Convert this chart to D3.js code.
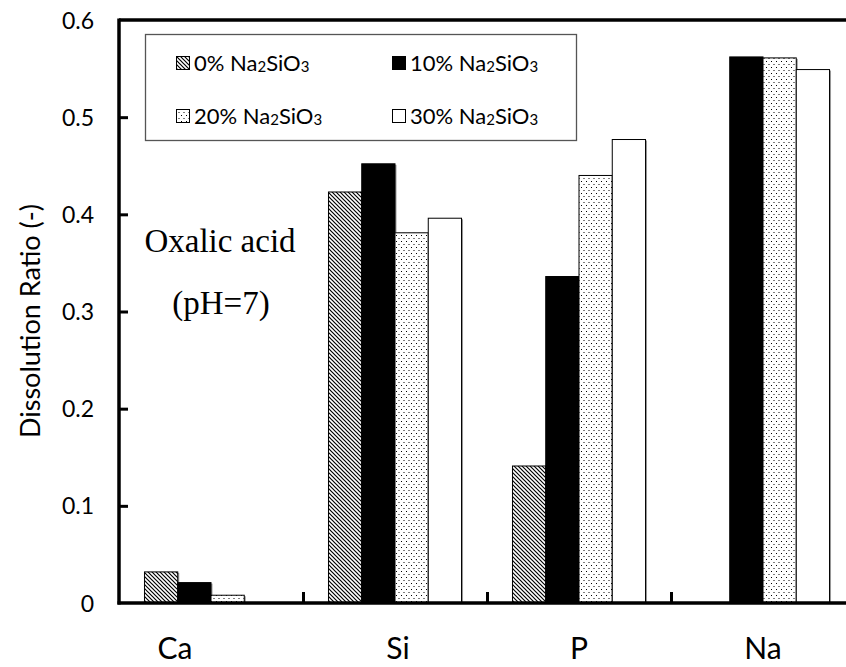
<!DOCTYPE html>
<html>
<head>
<meta charset="utf-8">
<script src="https://cdn.jsdelivr.net/npm/d3@7"></script>
<style>
  html, body { margin: 0; padding: 0; background: #fff; overflow: hidden; }
  svg { display: block; overflow: hidden; }
</style>
</head>
<body>
<svg id="chart" width="846" height="667"></svg>
<script>
// Element categories on the x axis
const categories = ["Ca", "Si", "P", "Na"];
// Na2SiO3 addition levels (legend entries)
const seriesPct = ["0%", "10%", "20%", "30%"];
// Dissolution ratio per element for each addition level
const values0  = [0.032, 0.423, 0.141, 0.000];
const values10 = [0.021, 0.452, 0.336, 0.562];
const values20 = [0.008, 0.381, 0.440, 0.561];
const values30 = [0.000, 0.396, 0.477, 0.549];
// y axis ticks
const yTicks = [0, 0.1, 0.2, 0.3, 0.4, 0.5, 0.6];

const seriesValues = [values0, values10, values20, values30];
const fills = ["url(#hatch)", "#000", "url(#dots)", "#fff"];

const svg = d3.select("#chart");
const defs = svg.append("defs");

// diagonal hatching
const hatch = defs.append("pattern")
  .attr("id", "hatch").attr("patternUnits", "userSpaceOnUse")
  .attr("width", 4).attr("height", 4);
hatch.append("rect").attr("width", 4).attr("height", 4).attr("fill", "#fff");
hatch.append("path").attr("d", "M-1,-1 L5,5 M-1,3 L1,5 M3,-1 L5,1")
  .attr("stroke", "#000").attr("stroke-width", 1.2);

// sparse dot fill
const dots = defs.append("pattern")
  .attr("id", "dots").attr("patternUnits", "userSpaceOnUse")
  .attr("width", 5).attr("height", 6);
dots.append("rect").attr("width", 5).attr("height", 6).attr("fill", "#fff");
dots.append("rect").attr("x", 1).attr("y", 1).attr("width", 1).attr("height", 1).attr("fill", "#000");
dots.append("rect").attr("x", 3.5).attr("y", 4).attr("width", 1).attr("height", 1).attr("fill", "#000");

const plotLeft = 119, plotRight = 855, plotTop = 20, plotBottom = 603;
const frameEnd = 846;

const x = d3.scaleBand().domain(categories).range([plotLeft, plotRight]).padding(0);
const groupW = x.bandwidth() * 0.723;
const x1 = d3.scaleBand().domain(d3.range(seriesPct.length))
  .range([-groupW / 2, groupW / 2]).padding(0);
const y = d3.scaleLinear().domain([0, 0.6]).range([plotBottom, plotTop]);

const sansFont = "Lato, 'Open Sans', sans-serif";

// bars, each with a light offset shadow behind it
const rows = [];
seriesValues.forEach((vals, s) => {
  vals.forEach((v, i) => { if (v > 0) rows.push({ s, cat: categories[i], v }); });
});
const barX = d => x(d.cat) + x.bandwidth() / 2 + x1(d.s);
const barG = svg.append("g");
barG.selectAll("rect.shade").data(rows).join("rect").attr("class", "shade")
  .attr("x", d => barX(d) + 1.5)
  .attr("y", d => y(d.v) + 1)
  .attr("width", x1.bandwidth())
  .attr("height", d => y(0) - y(d.v))
  .attr("fill", "#999");
barG.selectAll("rect.bar").data(rows).join("rect").attr("class", "bar")
  .attr("x", barX)
  .attr("y", d => y(d.v))
  .attr("width", x1.bandwidth())
  .attr("height", d => y(0) - y(d.v))
  .attr("fill", d => fills[d.s])
  .attr("stroke", "#000").attr("stroke-width", 1);

// top frame line
svg.append("line")
  .attr("x1", plotLeft).attr("x2", frameEnd).attr("y1", plotTop).attr("y2", plotTop)
  .attr("stroke", "#000").attr("stroke-width", 3.5);

// y axis
const yAxis = d3.axisRight(y).tickValues(yTicks)
  .tickFormat(d => d === 0 ? "0" : d3.format(".1f")(d))
  .tickSize(9);
const gy = svg.append("g").attr("transform", `translate(${plotLeft},0)`).call(yAxis);
gy.select(".domain").attr("stroke", "#000").attr("stroke-width", 3.5)
  .attr("d", `M0,${plotTop - 1.5}V${plotBottom + 1.5}`);
gy.selectAll(".tick line").attr("stroke", "#000").attr("stroke-width", 3)
  .filter(d => d === 0 || d === 0.6).remove();
gy.selectAll(".tick text")
  .attr("x", -25).attr("text-anchor", "end").attr("dy", "0.35em")
  .attr("font-family", sansFont).attr("font-size", 23).attr("fill", "#000");

// x axis: boundary ticks between categories
const boundaries = categories.slice(1).map(c => x(c));
const xAxis = d3.axisTop(d3.scaleLinear().domain([plotLeft, plotRight]).range([plotLeft, plotRight]))
  .tickValues(boundaries).tickFormat("").tickSize(11);
const gx = svg.append("g").attr("transform", `translate(0,${plotBottom})`).call(xAxis);
gx.select(".domain").attr("stroke", "#000").attr("stroke-width", 3.5)
  .attr("d", `M${plotLeft - 1.5},0H${frameEnd}`);
gx.selectAll(".tick line").attr("stroke", "#000").attr("stroke-width", 3);

// category labels
const labelShift = { Ca: -36, Si: 3, P: 0, Na: 0 };
svg.append("g").selectAll("text").data(categories).join("text")
  .attr("x", d => x(d) + x.bandwidth() / 2 + labelShift[d])
  .attr("y", 659)
  .attr("text-anchor", "middle")
  .attr("font-family", sansFont).attr("font-size", 30).attr("fill", "#000")
  .text(d => d);

// y axis title
svg.append("text")
  .attr("transform", "translate(40,321) rotate(-90)")
  .attr("text-anchor", "middle")
  .attr("font-family", sansFont).attr("font-size", 27).attr("fill", "#000")
  .text("Dissolution Ratio (-)");

// annotation
const note = svg.append("g").attr("font-family", "'Liberation Serif', 'Times New Roman', serif")
  .attr("font-size", 33).attr("fill", "#000").attr("text-anchor", "middle");
note.append("text").attr("x", 220).attr("y", 252).text("Oxalic acid");
note.append("text").attr("x", 221).attr("y", 314).text("(pH=7)");

// legend
const legend = svg.append("g");
legend.append("rect")
  .attr("x", 145.5).attr("y", 34.5).attr("width", 431).attr("height", 106)
  .attr("fill", "#fff").attr("stroke", "#555").attr("stroke-width", 1.3);
const legPos = [[176, 63], [392, 63], [176, 116], [392, 116]];
seriesPct.forEach((p, i) => {
  const [lx, ly] = legPos[i];
  legend.append("rect")
    .attr("x", lx + 0.5).attr("y", ly - 6.5).attr("width", 13).attr("height", 13)
    .attr("fill", fills[i]).attr("stroke", "#000").attr("stroke-width", 1);
  const t = legend.append("text")
    .attr("x", lx + 18).attr("y", ly + 8)
    .attr("font-family", sansFont).attr("font-size", 22).attr("fill", "#000");
  t.append("tspan").text(p + " Na");
  t.append("tspan").attr("font-size", 15).attr("dy", 1).text("2");
  t.append("tspan").attr("dy", -1).text("SiO");
  t.append("tspan").attr("font-size", 15).attr("dy", 1).text("3");
});
</script>
</body>
</html>
